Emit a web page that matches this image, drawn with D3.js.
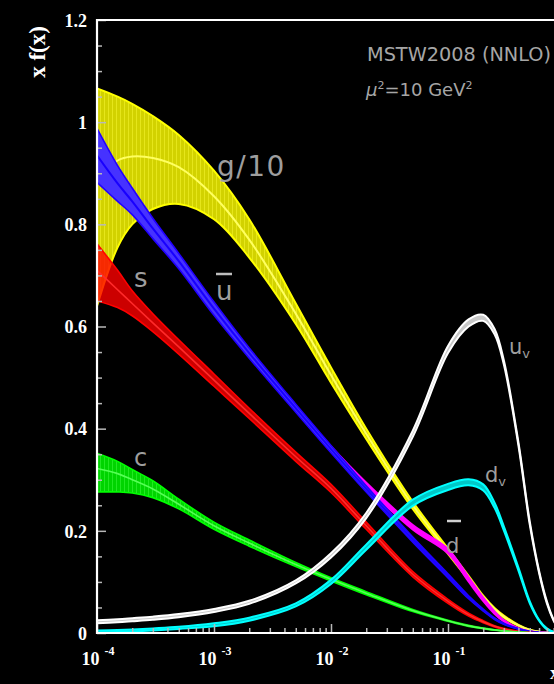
<!DOCTYPE html>
<html><head><meta charset="utf-8">
<script src="https://cdn.jsdelivr.net/npm/d3@7"></script>
<style>html,body{margin:0;padding:0;background:#000;}svg{display:block;}</style>
</head><body>
<script>
// ---- data ----
const xGrid = [1e-4, 1.5e-4, 2e-4, 3e-4, 5e-4, 1e-3, 2e-3, 5e-3, 1e-2, 2e-2, 5e-2, 0.1, 0.15, 0.2, 0.25, 0.3, 0.4, 0.5, 0.6, 0.7, 0.8, 0.9];

const gluonMid = [0.88, 0.925, 0.933, 0.93, 0.912, 0.855, 0.77, 0.625, 0.505, 0.39, 0.25, 0.16, 0.108, 0.07, 0.047, 0.032, 0.015, 0.006, 0.0025, 0.0008, 0.0002, 0];
const gluonLo  = [0.64, 0.755, 0.80, 0.83, 0.84, 0.81, 0.735, 0.605, 0.49, 0.38, 0.243, 0.155, 0.104, 0.067, 0.045, 0.03, 0.014, 0.0055, 0.0023, 0.0007, 0.0002, 0];
const gluonHi  = [1.066, 1.05, 1.036, 1.012, 0.975, 0.905, 0.81, 0.645, 0.52, 0.40, 0.257, 0.165, 0.112, 0.073, 0.049, 0.034, 0.016, 0.0065, 0.0027, 0.0009, 0.0002, 0];

const ubarMid = [0.935, 0.88, 0.845, 0.792, 0.728, 0.635, 0.548, 0.44, 0.36, 0.282, 0.183, 0.112, 0.07, 0.045, 0.028, 0.018, 0.008, 0.003, 0.001, 0.0003, 0, 0];
const ubarLo  = [0.882, 0.845, 0.819, 0.772, 0.713, 0.622, 0.538, 0.432, 0.353, 0.276, 0.178, 0.108, 0.067, 0.043, 0.0265, 0.017, 0.0075, 0.0028, 0.0009, 0.0003, 0, 0];
const ubarHi  = [0.988, 0.915, 0.871, 0.812, 0.743, 0.648, 0.558, 0.448, 0.367, 0.288, 0.188, 0.116, 0.073, 0.047, 0.0295, 0.019, 0.0085, 0.0032, 0.0011, 0.0003, 0, 0];

const dbarMid = [0.935, 0.88, 0.845, 0.792, 0.728, 0.635, 0.548, 0.44, 0.361, 0.29, 0.207, 0.16, 0.105, 0.066, 0.04, 0.024, 0.009, 0.003, 0.001, 0.0003, 0, 0];
const dbarLo  = [0.931, 0.876, 0.841, 0.788, 0.724, 0.631, 0.544, 0.436, 0.357, 0.286, 0.203, 0.156, 0.101, 0.063, 0.038, 0.023, 0.0085, 0.0028, 0.0009, 0.0003, 0, 0];
const dbarHi  = [0.939, 0.884, 0.849, 0.796, 0.732, 0.639, 0.552, 0.444, 0.365, 0.294, 0.211, 0.164, 0.109, 0.069, 0.042, 0.025, 0.0095, 0.0032, 0.0011, 0.0003, 0, 0];

const sMid = [0.71, 0.672, 0.645, 0.607, 0.56, 0.495, 0.43, 0.345, 0.283, 0.21, 0.115, 0.062, 0.036, 0.022, 0.013, 0.008, 0.003, 0.001, 0.0003, 0, 0, 0];
const sLo  = [0.65, 0.637, 0.621, 0.59, 0.546, 0.483, 0.42, 0.336, 0.275, 0.203, 0.11, 0.058, 0.033, 0.02, 0.012, 0.007, 0.0025, 0.0008, 0.0002, 0, 0, 0];
const sHi  = [0.762, 0.71, 0.67, 0.625, 0.574, 0.507, 0.44, 0.354, 0.291, 0.217, 0.12, 0.066, 0.039, 0.024, 0.014, 0.009, 0.0035, 0.0012, 0.0004, 0, 0, 0];

const cMid = [0.322, 0.312, 0.30, 0.282, 0.252, 0.21, 0.176, 0.134, 0.105, 0.078, 0.044, 0.024, 0.014, 0.009, 0.006, 0.004, 0.0015, 0.0005, 0.0002, 0, 0, 0];
const cLo  = [0.276, 0.276, 0.274, 0.265, 0.243, 0.203, 0.17, 0.13, 0.102, 0.075, 0.042, 0.023, 0.013, 0.0085, 0.0055, 0.0037, 0.0013, 0.0004, 0.0001, 0, 0, 0];
const cHi  = [0.352, 0.336, 0.32, 0.298, 0.262, 0.217, 0.182, 0.138, 0.108, 0.081, 0.046, 0.025, 0.015, 0.0095, 0.0065, 0.0043, 0.0017, 0.0006, 0.0003, 0, 0, 0];

const uvMid = [0.022, 0.024, 0.026, 0.029, 0.034, 0.044, 0.06, 0.10, 0.152, 0.23, 0.39, 0.555, 0.607, 0.617, 0.59, 0.53, 0.37, 0.215, 0.12, 0.06, 0.025, 0.005];
const uvLo  = [0.019, 0.021, 0.023, 0.026, 0.031, 0.041, 0.057, 0.097, 0.148, 0.225, 0.384, 0.548, 0.60, 0.611, 0.585, 0.526, 0.367, 0.212, 0.118, 0.058, 0.024, 0.004];
const uvHi  = [0.025, 0.027, 0.029, 0.032, 0.037, 0.047, 0.063, 0.103, 0.156, 0.235, 0.396, 0.562, 0.614, 0.623, 0.595, 0.534, 0.373, 0.218, 0.122, 0.062, 0.026, 0.006];

const dvMid = [0.003, 0.004, 0.005, 0.007, 0.01, 0.016, 0.027, 0.055, 0.10, 0.168, 0.255, 0.286, 0.295, 0.285, 0.25, 0.205, 0.125, 0.06, 0.025, 0.008, 0.002, 0.0003];
const dvLo  = [0.001, 0.002, 0.003, 0.005, 0.008, 0.013, 0.024, 0.052, 0.096, 0.163, 0.249, 0.28, 0.289, 0.279, 0.245, 0.201, 0.122, 0.058, 0.024, 0.007, 0.002, 0.0003];
const dvHi  = [0.005, 0.006, 0.007, 0.009, 0.012, 0.019, 0.03, 0.058, 0.104, 0.173, 0.261, 0.292, 0.301, 0.291, 0.255, 0.209, 0.128, 0.062, 0.026, 0.009, 0.002, 0.0003];

const yTickLabels = [0, 0.2, 0.4, 0.6, 0.8, 1, 1.2];
const xDecades = [1e-4, 1e-3, 1e-2, 1e-1, 1];
const xLabelDecades = [1e-4, 1e-3, 1e-2, 1e-1];
const xDecadeExp = ["-4", "-3", "-2", "-1"];

// ---- layout ----
const W = 554, H = 684;
const svg = d3.select("body").append("svg").attr("width", W).attr("height", H);
svg.append("rect").attr("width", W).attr("height", H).attr("fill", "#000");

const x = d3.scaleLog().domain([1e-4, 1]).range([97, 565]);
const y = d3.scaleLinear().domain([0, 1.2]).range([633, 20]);

const defs = svg.append("defs");
defs.append("clipPath").attr("id", "clip").append("rect")
  .attr("x", 97).attr("y", 20).attr("width", 470).attr("height", 613);
const pat = defs.append("pattern").attr("id", "hatchY").attr("patternUnits", "userSpaceOnUse")
  .attr("width", 4).attr("height", 4);
pat.append("rect").attr("width", 4).attr("height", 4).attr("fill", "#d2d200");
pat.append("rect").attr("width", 1).attr("height", 4).attr("fill", "#e6e61a");
const patG = defs.append("pattern").attr("id", "hatchG").attr("patternUnits", "userSpaceOnUse")
  .attr("width", 4).attr("height", 4);
patG.append("rect").attr("width", 4).attr("height", 4).attr("fill", "#00d400");
patG.append("rect").attr("width", 1).attr("height", 4).attr("fill", "#22e822");

const plot = svg.append("g").attr("clip-path", "url(#clip)");

function rows(lo, hi) { return xGrid.map((xv, i) => ({ x: xv, lo: lo[i], hi: hi[i] })); }
const curve = d3.curveCatmullRom.alpha(0.5);
const area = d3.area().x(d => x(d.x)).y0(d => y(d.lo)).y1(d => y(d.hi)).curve(curve);
const lineGen = d3.line().x(d => x(d.x)).y(d => y(d.v)).curve(curve);

function drawBand(lo, mid, hi, fill, opacity, edge, edgeW, midColor, midW) {
  plot.append("path").datum(rows(lo, hi)).attr("d", area)
    .attr("fill", fill).attr("fill-opacity", opacity);
  [lo, hi].forEach(arr => {
    plot.append("path").datum(xGrid.map((xv, i) => ({ x: xv, v: arr[i] })))
      .attr("d", lineGen).attr("fill", "none").attr("stroke", edge).attr("stroke-width", edgeW);
  });
  if (mid) {
    plot.append("path").datum(xGrid.map((xv, i) => ({ x: xv, v: mid[i] })))
      .attr("d", lineGen).attr("fill", "none").attr("stroke", midColor).attr("stroke-width", midW);
  }
}

// gluon / 10
drawBand(gluonLo, gluonMid, gluonHi, "url(#hatchY)", 1, "#ffff00", 2, "#ffff60", 2);
// dbar (magenta), beneath ubar
drawBand(dbarLo, null, dbarHi, "#ff00ff", 1, "#ff00ff", 2.2);
// ubar (blue)
drawBand(ubarLo, ubarMid, ubarHi, "#4632ff", 1, "#2200ff", 1.6, "#1800ff", 2);
// s (red)
drawBand(sLo, sMid, sHi, "#ff0000", 0.8, "#ff0000", 1.6, "#ff2a2a", 1.6);
// c (green)
drawBand(cLo, cMid, cHi, "url(#hatchG)", 1, "#00ff00", 1.6, "#55ff55", 1.6);
// u_v (white)
drawBand(uvLo, null, uvHi, "#c8c8c8", 1, "#ffffff", 2);
// d_v (cyan)
drawBand(dvLo, null, dvHi, "#00c8c8", 1, "#00ffff", 2);

// ---- axes ----
const tickColor = "#b8b8b8";
const serif = "'Liberation Serif', 'DejaVu Serif', serif";
const yAxis = d3.axisLeft(y).tickValues(yTickLabels).tickSize(-9).tickPadding(10)
  .tickFormat(d => d === 0 ? "0" : String(+d.toFixed(1)));
const gy = svg.append("g").attr("transform", "translate(97,0)").call(yAxis);
gy.select(".domain").remove();
gy.selectAll("line").attr("stroke", tickColor).attr("stroke-width", 1.5);
gy.selectAll("text").attr("fill", "#fff").attr("font-family", serif)
  .attr("font-weight", "bold").attr("font-size", 18).attr("dy", "0.35em");

const yMinor = d3.range(0, 1.2001, 0.05).filter((v, i) => i % 4 !== 0);
const gym = svg.append("g").attr("transform", "translate(97,0)")
  .call(d3.axisLeft(y).tickValues(yMinor).tickSize(-5).tickFormat(""));
gym.select(".domain").remove();
gym.selectAll("line").attr("stroke", tickColor).attr("stroke-width", 1.5);

const xAxis = d3.axisBottom(x).tickValues(xDecades).tickSize(-9).tickFormat("");
const gx = svg.append("g").attr("transform", "translate(0,633)").call(xAxis);
gx.select(".domain").remove();
gx.selectAll("line").attr("stroke", tickColor).attr("stroke-width", 1.5);

const xMinor = [];
[-4, -3, -2, -1].forEach(e => { for (let k = 2; k <= 9; k++) xMinor.push(k * Math.pow(10, e)); });
const gxm = svg.append("g").attr("transform", "translate(0,633)")
  .call(d3.axisBottom(x).tickValues(xMinor).tickSize(-5).tickFormat(""));
gxm.select(".domain").remove();
gxm.selectAll("line").attr("stroke", tickColor).attr("stroke-width", 1.5);

// frame lines
svg.append("line").attr("x1", 97).attr("x2", 97).attr("y1", 19).attr("y2", 634)
  .attr("stroke", "#fff").attr("stroke-width", 2.2);
svg.append("line").attr("x1", 96).attr("x2", W).attr("y1", 633).attr("y2", 633)
  .attr("stroke", "#fff").attr("stroke-width", 2.2);
svg.append("line").attr("x1", 96).attr("x2", W).attr("y1", 20).attr("y2", 20)
  .attr("stroke", "#fff").attr("stroke-width", 2.2);

// x tick labels (10^n)
xLabelDecades.forEach((d, i) => {
  const t = svg.append("text").attr("x", x(d) + 1).attr("y", 665)
    .attr("text-anchor", "middle").attr("fill", "#fff")
    .attr("font-family", serif).attr("font-weight", "bold").attr("font-size", 18);
  t.append("tspan").text("10");
  t.append("tspan").attr("dx", 5).attr("dy", -10).attr("font-size", 12).text(xDecadeExp[i]);
});

// axis titles
svg.append("text").attr("transform", "translate(45,52) rotate(-90)")
  .attr("text-anchor", "middle").attr("fill", "#fff").attr("font-family", serif)
  .attr("font-weight", "bold").attr("font-size", 23).text("x f(x)");
svg.append("text").attr("x", 550).attr("y", 679).attr("fill", "#fff").attr("font-family", serif)
  .attr("font-weight", "bold").attr("font-size", 18).text("x");

// annotations
const sans = "'DejaVu Sans', Verdana, sans-serif";
const gray = "#a6a6a6";
svg.append("text").attr("x", 367).attr("y", 61).attr("fill", gray)
  .attr("font-family", sans).attr("font-size", 19.3).text("MSTW2008 (NNLO)");
const mu = svg.append("text").attr("x", 366).attr("y", 96).attr("fill", gray)
  .attr("font-family", sans).attr("font-size", 18);
mu.append("tspan").attr("font-style", "italic").text("μ");
mu.append("tspan").attr("dy", -7).attr("font-size", 11).text("2");
mu.append("tspan").attr("dy", 7).text("=10 GeV");
mu.append("tspan").attr("dy", -7).attr("font-size", 11).text("2");

const lab = "#9e9e9e";
function label(tx, ty, s, size, extra) {
  const t = svg.append("text").attr("x", tx).attr("y", ty).attr("fill", lab)
    .attr("font-family", sans).attr("font-size", size).text(s);
  if (extra) extra(t);
  return t;
}
label(217, 176, "g/10", 28, t => t.attr("letter-spacing", 1.5));
label(134, 287, "s", 26);
label(216, 300, "u", 26);
svg.append("line").attr("x1", 216).attr("x2", 232).attr("y1", 274).attr("y2", 274)
  .attr("stroke", "#bdbdbd").attr("stroke-width", 2.5);
label(134, 466, "c", 24);
const uvT = label(509, 354, "u", 21);
uvT.append("tspan").attr("font-size", 13).attr("dy", 4).text("v");
const dvT = label(485, 482, "d", 21);
dvT.append("tspan").attr("font-size", 13).attr("dy", 4).text("v");
label(446, 553, "d", 21);
svg.append("line").attr("x1", 447).attr("x2", 461).attr("y1", 521).attr("y2", 521)
  .attr("stroke", "#d0d0d0").attr("stroke-width", 2.5);
</script>
</body></html>
